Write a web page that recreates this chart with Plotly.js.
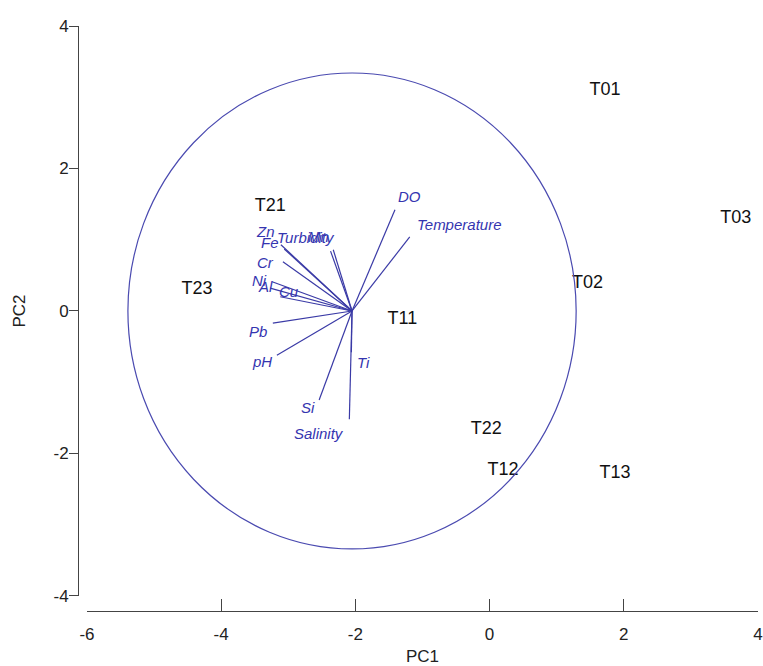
<!DOCTYPE html>
<html>
<head>
<meta charset="utf-8">
<script src="https://cdn.plot.ly/plotly-3.0.1.min.js"></script>
<style>
  html, body { margin: 0; padding: 0; background: #fff; }
  #chart { width: 763px; height: 666px; }
</style>
</head>
<body>
<div id="chart"></div>
<script>
// Sample scores (PC1, PC2)
const sampleNames = ["T01", "T02", "T03", "T11", "T12", "T13", "T21", "T22", "T23"];
const samplePC1   = [1.72, 1.46, 3.67, -1.30, 0.20, 1.87, -3.27, -0.05, -4.36];
const samplePC2   = [3.10, 0.38, 1.30, -0.12, -2.24, -2.28, 1.46, -1.67, 0.30];

// Variable loadings (vector end points in the biplot)
const varNames = ["DO", "Temperature", "Turbidity", "Mn", "Zn", "Fe", "Cr", "Ni", "Al", "Cu", "Pb", "pH", "Si", "Salinity", "Ti"];
const varPC1   = [-1.41, -1.19, -2.37, -2.33, -3.11, -3.06, -3.08, -3.24, -3.27, -3.12, -3.23, -3.17, -2.54, -2.09, -2.06];
const varPC2   = [1.42, 1.04, 0.84, 0.86, 0.93, 0.87, 0.69, 0.41, 0.32, 0.20, -0.17, -0.62, -1.25, -1.52, -0.58];

// Label offsets from the vector tips (pixels, styling only)
const labelDX = [15, 50, -25, -15, -15, -14, -17, -13, -5, 9, -15, -15, -11, -30, 12];
const labelDY = [13, 12, 14, 13, 13, 7, -1, 1, 2, 5, -8, -6, -7, -14, -10];

// Biplot origin and circle radius
const originPC1 = -2.05;
const originPC2 = 0;
const circleRadius = 3.34;

const xTicks = [-6, -4, -2, 0, 2, 4];
const yTicks = [-4, -2, 0, 2, 4];

const blue = "#3a3aa6";
const FONT = "Liberation Sans, Arial, sans-serif";

const vx = [], vy = [];
for (let i = 0; i < varNames.length; i++) {
  vx.push(originPC1, varPC1[i], null);
  vy.push(originPC2, varPC2[i], null);
}

const traces = [
  {
    x: vx, y: vy, mode: "lines", type: "scatter",
    line: { color: blue, width: 1.2 },
    hoverinfo: "skip", showlegend: false
  },
  {
    x: samplePC1, y: samplePC2, text: sampleNames, mode: "text", type: "scatter",
    textposition: "middle center",
    textfont: { family: FONT, size: 18, color: "#111" },
    showlegend: false
  }
];

const annotations = varNames.map((name, i) => ({
  x: varPC1[i], y: varPC2[i], xref: "x", yref: "y",
  text: name, showarrow: false,
  xanchor: "center", yanchor: "middle",
  xshift: labelDX[i], yshift: labelDY[i],
  font: { family: FONT, size: 15, color: "#3535b0", style: "italic" }
}));

const layout = {
  width: 763, height: 666,
  paper_bgcolor: "#fff", plot_bgcolor: "#fff",
  margin: { l: 78, r: 5, t: 26, b: 55, pad: 0 },
  showlegend: false,
  font: { family: FONT, color: "#222", size: 16 },
  xaxis: {
    domain: [0.0132, 1],
    range: [-6, 4],
    anchor: "free", position: 0,
    tickvals: xTicks, ticktext: xTicks.map(String),
    ticks: "inside", ticklen: 12, tickcolor: "#444", tickwidth: 1,
    showline: true, linecolor: "#444", linewidth: 1,
    showgrid: false, zeroline: false,
    tickfont: { size: 17, color: "#222" },
    ticklabelstandoff: 8,
    title: { text: "PC1", font: { size: 17, color: "#222" }, standoff: 6 },
    automargin: false
  },
  yaxis: {
    domain: [0.0257, 1],
    range: [-4, 4],
    anchor: "free", position: 0,
    tickvals: yTicks, ticktext: yTicks.map(String),
    ticks: "outside", ticklen: 9, tickcolor: "#444", tickwidth: 1,
    showline: true, linecolor: "#444", linewidth: 1,
    showgrid: false, zeroline: false,
    tickfont: { size: 17, color: "#222" },
    ticklabelstandoff: -3,
    title: { text: "PC2", font: { size: 17, color: "#222" }, standoff: 22 },
    automargin: false
  },
  annotations: annotations,
  shapes: [
    {
      type: "circle", xref: "x", yref: "y",
      x0: originPC1 - circleRadius, x1: originPC1 + circleRadius,
      y0: originPC2 - circleRadius, y1: originPC2 + circleRadius,
      line: { color: "#4a4ab0", width: 1.2 }
    }
  ]
};

Plotly.newPlot("chart", traces, layout, { displayModeBar: false, staticPlot: true });
</script>
</body>
</html>
